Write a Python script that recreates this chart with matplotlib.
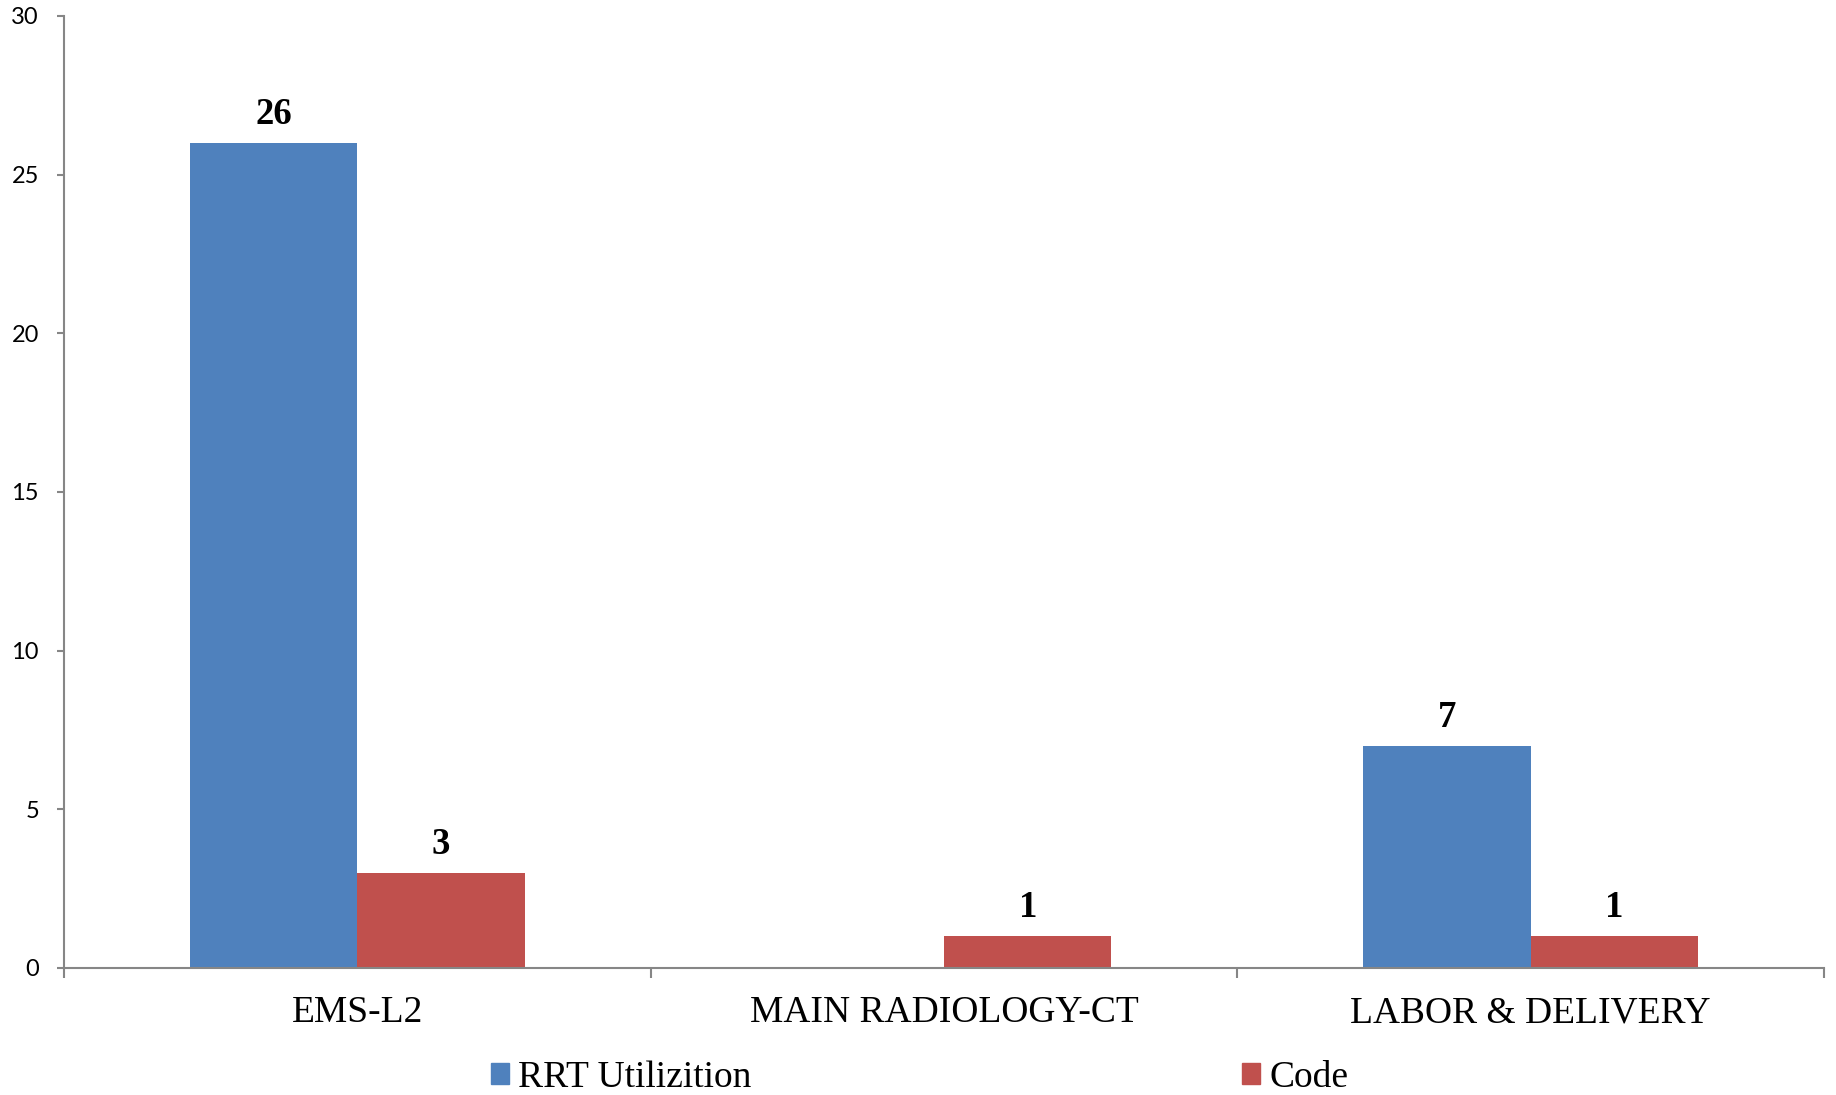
import matplotlib
matplotlib.use("Agg")
import matplotlib.pyplot as plt
from matplotlib.patches import Patch
import numpy as np

categories = ["EMS-L2", "MAIN RADIOLOGY-CT", "LABOR & DELIVERY"]
series_names = ["RRT Utilizition", "Code"]
rrt_values = [26, 0, 7]
code_values = [3, 1, 1]
yticks = [0, 5, 10, 15, 20, 25, 30]

blue = "#4F81BD"
red = "#C0504D"
axis_color = "#868686"
serif = "Liberation Serif"

fig = plt.figure(figsize=(18.36, 10.95), dpi=100)
ax = fig.add_axes([64/1836, 1-968/1095, (1824-64)/1836, (968-16)/1095])

x = np.arange(len(categories))
w = 0.2855
b1 = ax.bar(x - w/2, rrt_values, w, color=blue)
b2 = ax.bar(x + w/2, code_values, w, color=red)

for bars, vals in ((b1, rrt_values), (b2, code_values)):
    ax.bar_label(bars, labels=[str(v) if v else "" for v in vals], padding=8,
                 fontsize=26.5, fontweight="bold", family=serif)

ax.set_xlim(-0.5, len(categories) - 0.5)
ax.set_ylim(0, 30)
ax.set_yticks(yticks)
ax.set_yticklabels([str(t) for t in yticks], family="Lato", fontsize=17)
ax.set_xticks(np.arange(len(categories) + 1) - 0.5)
ax.set_xticklabels([])
ax.set_xticks(x, minor=True)
ax.set_xticklabels(categories, minor=True, family=serif, fontsize=27)
ax.tick_params(axis="x", which="major", direction="out", length=7, width=1.5, color=axis_color)
ax.tick_params(axis="x", which="minor", length=0, pad=20)
ax.tick_params(axis="y", direction="out", length=5, width=1.5, color=axis_color, pad=13)

for s in ("top", "right"):
    ax.spines[s].set_visible(False)
for s in ("left", "bottom"):
    ax.spines[s].set_color(axis_color)
    ax.spines[s].set_linewidth(1.5)

handles = [Patch(color=blue), Patch(color=red)]
fig.legend(handles, series_names, loc="lower center", bbox_to_anchor=(0.5008, 0.0),
           ncol=2, frameon=False, prop={"family": serif, "size": 27},
           handlelength=0.48, handleheight=0.48, handletextpad=0.24,
           columnspacing=13.1, borderpad=0, borderaxespad=0)

fig.savefig("out.png", dpi=100)
